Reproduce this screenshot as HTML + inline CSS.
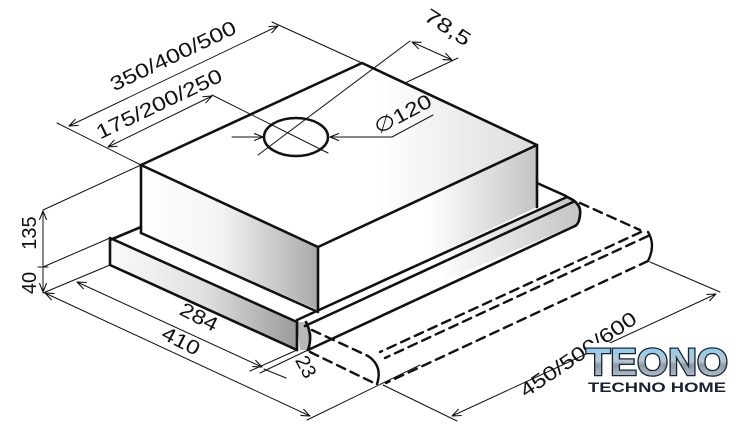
<!DOCTYPE html>
<html><head><meta charset="utf-8"><style>
html,body{margin:0;padding:0;background:#fff;}
svg{display:block;}
text{font-family:"Liberation Sans",sans-serif;fill:#111;}
</style></head><body>
<svg width="740" height="443" viewBox="0 0 740 443" xmlns="http://www.w3.org/2000/svg">
<defs>
<linearGradient id="gl" x1="0" y1="0" x2="1" y2="0">
<stop offset="0" stop-color="#ffffff"/><stop offset="0.45" stop-color="#f4f4f4"/><stop offset="1" stop-color="#a9a9a9"/></linearGradient>
<linearGradient id="gr" x1="0" y1="0" x2="1" y2="0">
<stop offset="0" stop-color="#ffffff"/><stop offset="0.5" stop-color="#ffffff"/><stop offset="1" stop-color="#c4c4c4"/></linearGradient>
<linearGradient id="gb" x1="0" y1="0" x2="1" y2="0">
<stop offset="0" stop-color="#fafafa"/><stop offset="0.5" stop-color="#e0e0e0"/><stop offset="1" stop-color="#9a9a9a"/></linearGradient>
<linearGradient id="gt" x1="0" y1="0" x2="1" y2="0">
<stop offset="0" stop-color="#ffffff"/><stop offset="0.6" stop-color="#ffffff"/><stop offset="1" stop-color="#dcdcdc"/></linearGradient>
<linearGradient id="logo" x1="0" y1="0" x2="0" y2="1">
<stop offset="0" stop-color="#7fd0f5"/><stop offset="0.45" stop-color="#b9c7d2"/><stop offset="0.55" stop-color="#8d9aa6"/><stop offset="1" stop-color="#cfd6dc"/></linearGradient>
<marker id="a" viewBox="0 0 10 10" refX="10" refY="5" markerWidth="9" markerHeight="9" orient="auto-start-reverse" markerUnits="userSpaceOnUse">
<path d="M0,1 L10,5 L0,9" fill="none" stroke="#111" stroke-width="1.2"/></marker>
</defs>

<polygon points="141,165 362,63 537,145 318,247" fill="url(#gt)"/>
<polygon points="141,165 318,247 318,310 141,233" fill="url(#gl)"/>
<polygon points="318,247 537,145 537,207 318,310" fill="url(#gr)"/>
<polygon points="110,238 297,323 297,350 110,265" fill="url(#gb)"/>
<polygon points="297,320 567,197 577,203 580,215 575,225 305,340 300,350" fill="url(#gr)"/>
<polygon points="297,322 308,322 312,336 308,350 300,350" fill="#b8b8b8"/>

<g stroke="#111" fill="none" stroke-linecap="round" stroke-linejoin="round">
<g stroke-width="2.6">
<polyline points="141,233 141,165 362,63 537,145 537,207"/>
<polyline points="141,165 318,247 537,145"/>
<line x1="318" y1="247" x2="318" y2="310"/>
<line x1="141" y1="233" x2="318" y2="312"/>
<polyline points="141,227 110,240 110,265 297,350"/>
<line x1="110" y1="238" x2="297" y2="322"/>
<line x1="297" y1="322" x2="297" y2="350"/>
<path d="M306,322 Q313,336 308,350"/>
<line x1="297" y1="320" x2="567" y2="197"/>
<line x1="305" y1="326" x2="573" y2="202"/>
<line x1="308" y1="350" x2="575" y2="226"/>
<path d="M567,197 Q582,203 580,215 Q579,224 575,226"/>
<line x1="537" y1="183" x2="566" y2="196"/>
<ellipse cx="296" cy="137" rx="32" ry="19"/>
</g>
<g stroke-width="2.4" stroke-dasharray="9,6">
<line x1="580" y1="203" x2="640" y2="230"/>
<line x1="641" y1="232" x2="380" y2="352"/>
<line x1="648" y1="236" x2="385" y2="358"/>
<line x1="648" y1="261" x2="386" y2="383"/>
<line x1="312" y1="330" x2="368" y2="356"/>
<line x1="310" y1="352" x2="374" y2="383"/>
</g>
<path d="M648,232 Q656,245 648,261" stroke-width="2.4"/>
<path d="M368,356 Q383,366 377,384" stroke-width="2.4"/>

<g stroke-width="1">
<line x1="57" y1="123" x2="141" y2="165"/>
<line x1="272" y1="22" x2="362" y2="63"/>
<line x1="69" y1="126" x2="278" y2="26" marker-start="url(#a)" marker-end="url(#a)"/>
<line x1="108" y1="147" x2="212" y2="96" marker-start="url(#a)" marker-end="url(#a)"/>
<line x1="212" y1="95" x2="328" y2="153"/>
<line x1="258" y1="155" x2="410" y2="41"/>
<line x1="458" y1="58" x2="405" y2="83"/>
<line x1="412" y1="42" x2="452" y2="60" marker-start="url(#a)" marker-end="url(#a)"/>
<line x1="232" y1="137" x2="263" y2="137" marker-end="url(#a)"/>
<polyline points="433,115 392,137 330,137" marker-end="url(#a)"/>
<line x1="43" y1="210" x2="141" y2="165"/>
<line x1="43" y1="267" x2="110" y2="238"/>
<line x1="43" y1="293" x2="110" y2="265"/>
<line x1="43" y1="211" x2="43" y2="266" marker-start="url(#a)"/>
<line x1="43" y1="268" x2="43" y2="292" marker-end="url(#a)"/>
<line x1="38" y1="267" x2="48" y2="267"/>
<line x1="77" y1="282" x2="262" y2="367" marker-start="url(#a)" marker-end="url(#a)"/>
<line x1="45" y1="293" x2="310" y2="416" marker-start="url(#a)" marker-end="url(#a)"/>
<line x1="297" y1="350" x2="250" y2="371"/>
<line x1="308" y1="350" x2="260" y2="373"/>
<line x1="264" y1="369" x2="286" y2="378"/>
<line x1="307" y1="420" x2="420" y2="365"/>
<line x1="650" y1="262" x2="720" y2="292"/>
<line x1="383" y1="385" x2="457" y2="421"/>
<line x1="452" y1="416" x2="716" y2="294" marker-start="url(#a)" marker-end="url(#a)"/>
</g>
</g>

<g font-size="20">
<text transform="translate(176,62) rotate(-25.5)" text-anchor="middle" textLength="137" lengthAdjust="spacingAndGlyphs">350/400/500</text>
<text transform="translate(162,110) rotate(-25.5)" text-anchor="middle" textLength="137" lengthAdjust="spacingAndGlyphs">175/200/250</text>
<text transform="translate(444,33) rotate(33)" text-anchor="middle" textLength="51" lengthAdjust="spacingAndGlyphs">78,5</text>
<text transform="translate(406,120) rotate(-28)" text-anchor="middle" textLength="62" lengthAdjust="spacingAndGlyphs">∅120</text>
<text transform="translate(36,233) rotate(-90)" text-anchor="middle">135</text>
<text transform="translate(36,283) rotate(-90)" text-anchor="middle">40</text>
<text transform="translate(196,323) rotate(27)" text-anchor="middle" textLength="40" lengthAdjust="spacingAndGlyphs">284</text>
<text transform="translate(178,347) rotate(27)" text-anchor="middle" textLength="40" lengthAdjust="spacingAndGlyphs">410</text>
<text transform="translate(300,370) rotate(62)" text-anchor="middle">23</text>
<text transform="translate(582,360) rotate(-34)" text-anchor="middle" textLength="136" lengthAdjust="spacingAndGlyphs">450/500/600</text>
</g>

<rect x="588" y="343" width="140" height="33" fill="#fff"/>
<text x="586" y="375" font-size="38" font-weight="bold" textLength="142" lengthAdjust="spacingAndGlyphs" style="fill:url(#logo);stroke:#13233a;stroke-width:2.5;paint-order:stroke">TEONO</text>
<text x="657" y="392" text-anchor="middle" font-size="14" font-weight="bold" textLength="138" lengthAdjust="spacingAndGlyphs" style="fill:#1a2130">TECHNO HOME</text>
</svg>
</body></html>
